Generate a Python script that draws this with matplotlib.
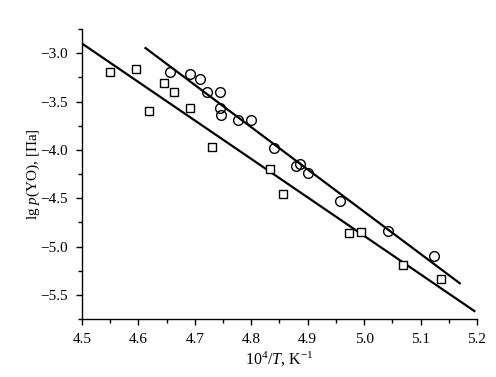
import matplotlib
matplotlib.use("Agg")
import matplotlib.pyplot as plt
from matplotlib.ticker import MultipleLocator

plt.rcParams['font.family'] = ['Liberation Serif', 'DejaVu Serif']
plt.rcParams['mathtext.fontset'] = 'custom'
plt.rcParams['mathtext.rm'] = 'Liberation Serif'
plt.rcParams['mathtext.it'] = 'Liberation Serif:italic'

# Squares series
sq_x = [4.550, 4.596, 4.618, 4.645, 4.663, 4.692, 4.731, 4.834, 4.857, 4.973, 4.994, 5.069, 5.137]
sq_y = [-3.19, -3.165, -3.60, -3.31, -3.40, -3.565, -3.97, -4.20, -4.46, -4.863, -4.846, -5.195, -5.335]

# Circles series
ci_x = [4.656, 4.692, 4.710, 4.722, 4.745, 4.745, 4.747, 4.776, 4.800, 4.841, 4.879, 4.886, 4.900, 4.958, 5.043, 5.123]
ci_y = [-3.197, -3.217, -3.265, -3.40, -3.40, -3.57, -3.64, -3.69, -3.686, -3.98, -4.163, -4.145, -4.235, -4.525, -4.835, -5.094]

# Fit lines (endpoints)
fit_sq_x = [4.50, 5.197]
fit_sq_y = [-2.90, -5.674]
fit_ci_x = [4.611, 5.171]
fit_ci_y = [-2.94, -5.387]

fig = plt.figure(figsize=(4.96, 3.77), dpi=100)
ax = fig.add_axes([0.1653, 0.1538, 0.7964, 0.7692])

ax.plot(fit_sq_x, fit_sq_y, color='black', lw=1.6, solid_capstyle='butt')
ax.plot(fit_ci_x, fit_ci_y, color='black', lw=1.6, solid_capstyle='butt')
ax.plot(sq_x, sq_y, ls='none', marker='s', ms=6, mfc='white', mec='black', mew=1.0)
ax.plot(ci_x, ci_y, ls='none', marker='o', ms=7, mfc='none', mec='black', mew=1.0)

ax.set_xlim(4.5, 5.2)
ax.set_ylim(-5.75, -2.75)
ax.xaxis.set_major_locator(MultipleLocator(0.1))
ax.xaxis.set_minor_locator(MultipleLocator(0.05))
ax.yaxis.set_major_locator(MultipleLocator(0.5))
ax.yaxis.set_minor_locator(MultipleLocator(0.25))
ax.xaxis.set_major_formatter(plt.FuncFormatter(lambda v, p: f"{v:.1f}"))
ax.yaxis.set_major_formatter(plt.FuncFormatter(lambda v, p: f"{v:.1f}".replace('-', '\u2212')))

for s in ['top', 'right']:
    ax.spines[s].set_visible(False)
for s in ['left', 'bottom']:
    ax.spines[s].set_linewidth(1.0)

ax.tick_params(which='major', direction='out', length=4, width=1.0, labelsize=11)
ax.tick_params(axis='x', which='major', pad=6)
ax.tick_params(axis='y', which='major', pad=6)
ax.tick_params(which='minor', direction='out', length=3, width=1.0)

ax.set_xlabel(r'10$^{4}$/$\mathit{T}$, K$^{-1}$', fontsize=11.5)
ax.set_ylabel(r'lg $\mathit{p}$(YO), [Па]', fontsize=11)
ax.xaxis.set_label_coords(0.5, -0.108)
ax.yaxis.set_label_coords(-0.101, 0.5)

fig.savefig('out.png', dpi=100)
